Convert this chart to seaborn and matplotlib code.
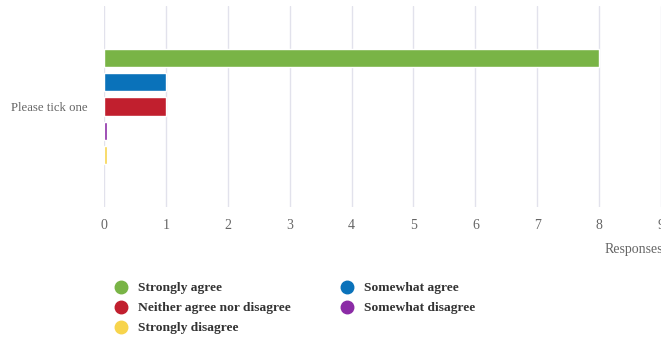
import matplotlib
matplotlib.use("Agg")
import matplotlib.pyplot as plt
from matplotlib.lines import Line2D
import seaborn as sns
import pandas as pd

question = ["Please tick one"] * 5
answers = ["Strongly agree", "Somewhat agree", "Neither agree nor disagree",
           "Somewhat disagree", "Strongly disagree"]
responses = [8, 1, 1, 0, 0]
colors = ["#79B446", "#0A72BA", "#C11F2E", "#8B2BA6", "#F7D44C"]
x_ticks = [0, 1, 2, 3, 4, 5, 6, 7, 8, 9]

# zero responses are shown as a thin stub, like the original chart
stub = 0.05
df = pd.DataFrame({"question": question, "answer": answers,
                   "responses": responses})
df["shown"] = [v if v > 0 else stub for v in responses]

sns.set_style("white")
plt.rcParams["font.family"] = ["Liberation Serif", "DejaVu Serif"]

W, H = 661, 339
fig = plt.figure(figsize=(W / 100, H / 100), dpi=100)
left, right, top, bottom = 104, 661, 6, 207
ax = fig.add_axes([left / W, 1 - bottom / H, (right - left) / W, (bottom - top) / H])

sns.barplot(data=df, y="question", x="shown", hue="answer", hue_order=answers,
            palette=colors, orient="h", width=0.6, gap=0.25, ax=ax,
            legend=False, saturation=1)

ax.set_xlim(0, 9)
ax.set_ylim(0.5, -0.5)
ax.set_xticks(x_ticks)
ax.set_xticklabels([str(t) for t in x_ticks], color="#666666", fontsize=10)
ax.tick_params(axis="x", length=0, pad=9)
ax.tick_params(axis="y", length=0, pad=12, labelsize=9.2, labelcolor="#666666")
ax.set_xlabel("")
ax.set_ylabel("")
ax.grid(axis="x", color="#E2E2EC", linewidth=1)
ax.set_axisbelow(True)
for s in ax.spines.values():
    s.set_visible(False)

fig.text(605 / W, 1 - 249 / H, "Responses", ha="left", va="center",
         color="#666666", fontsize=10)

order = [0, 2, 4, 1, 3]
handles = [Line2D([], [], marker="o", linestyle="", markersize=9,
                  markerfacecolor=colors[i], markeredgecolor=colors[i])
           for i in order]
labels = [answers[i] for i in order]
fig.legend(handles, labels, ncol=2, loc="upper left",
           bbox_to_anchor=(114 / W, 1 - 282 / H), frameon=False,
           prop={"weight": "bold", "size": 9.7}, labelcolor="#333333",
           handletextpad=0.75, columnspacing=3.7, labelspacing=0.56,
           handlelength=1.0, borderaxespad=0, borderpad=0)

fig.savefig("out.png", dpi=100)
